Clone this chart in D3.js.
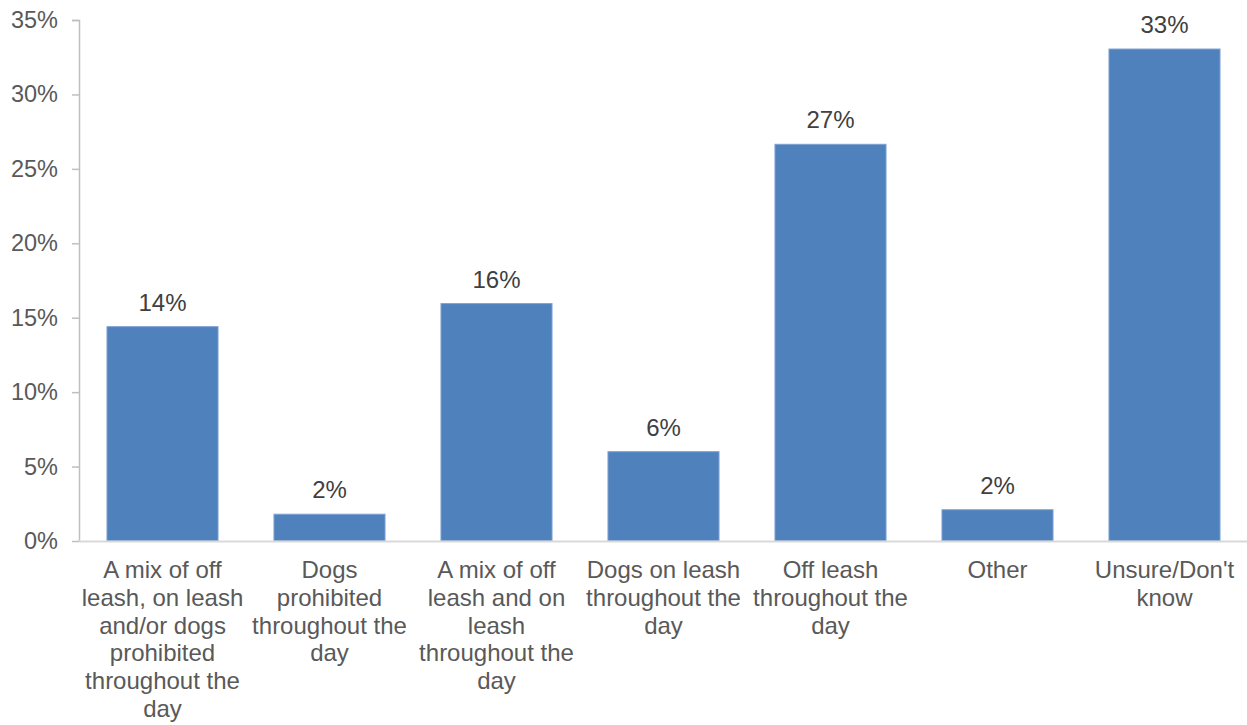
<!DOCTYPE html>
<html>
<head>
<meta charset="utf-8">
<script src="https://d3js.org/d3.v7.min.js"></script>
<style>
  body { margin: 0; background: #fff; }
  svg { display: block; font-family: Arial, "Liberation Sans", sans-serif; }
</style>
</head>
<body>
<svg class="viz" width="1247" height="725"></svg>
<script>
// chart data
var categories = [
  "A mix of off leash, on leash and/or dogs prohibited throughout the day",
  "Dogs prohibited throughout the day",
  "A mix of off leash and on leash throughout the day",
  "Dogs on leash throughout the day",
  "Off leash throughout the day",
  "Other",
  "Unsure/Don't know"
];
var values = [14.4, 1.8, 15.95, 6.0, 26.65, 2.1, 33.05];
var valueLabels = ["14%", "2%", "16%", "6%", "27%", "2%", "33%"];
// wrapped lines for x labels
var labelLines = [
  ["A mix of off", "leash, on leash", "and/or dogs", "prohibited", "throughout the", "day"],
  ["Dogs", "prohibited", "throughout the", "day"],
  ["A mix of off", "leash and on", "leash", "throughout the", "day"],
  ["Dogs on leash", "throughout the", "day"],
  ["Off leash", "throughout the", "day"],
  ["Other"],
  ["Unsure/Don't", "know"]
];
var yTicks = [0, 5, 10, 15, 20, 25, 30, 35];

var svg = d3.select(".viz"),
    margin = {top: 20, right: 0, bottom: 184, left: 79},
    width = 1247 - margin.left - margin.right,
    height = 725 - margin.top - margin.bottom;

var x = d3.scaleBand()
  .domain(categories)
  .range([0, 7 * 167])
  .paddingInner(0.335)
  .paddingOuter(0.1675);

var y = d3.scaleLinear()
  .domain([0, 35])
  .range([height, 0]);

var g = svg.append("g")
  .attr("transform", "translate(" + margin.left + "," + margin.top + ")");

// y axis
var yAxis = g.append("g")
  .call(d3.axisLeft(y).tickValues(yTicks).tickSize(7).tickPadding(14)
    .tickFormat(function(d) { return d + "%"; }));
yAxis.select(".domain").attr("stroke", "#bfbfbf").attr("stroke-width", 1.5)
  .attr("d", "M-7,0.5H0.5V" + height);
yAxis.selectAll(".tick line").attr("stroke", "#bfbfbf").attr("stroke-width", 1.5);
yAxis.selectAll(".tick text")
  .attr("fill", "#595959")
  .attr("font-size", "23.5px")
  .attr("font-family", "Arial, 'Liberation Sans', sans-serif");

// bars
g.selectAll(".bar")
  .data(values)
  .enter().append("rect")
  .attr("class", "bar")
  .attr("x", function(d, i) { return x(categories[i]); })
  .attr("y", function(d) { return y(d); })
  .attr("width", x.bandwidth())
  .attr("height", function(d) { return height - y(d); })
  .attr("fill", "#4f81bd")
  .attr("stroke", "#7ea2d3")
  .attr("stroke-width", 1);

// x axis baseline
g.append("line")
  .attr("x1", 0)
  .attr("x2", width)
  .attr("y1", height + 0.5)
  .attr("y2", height + 0.5)
  .attr("stroke", "#d9d9d9")
  .attr("stroke-width", 2);

// value labels
g.selectAll(".vlabel")
  .data(values)
  .enter().append("text")
  .attr("class", "vlabel")
  .attr("x", function(d, i) { return x(categories[i]) + x.bandwidth() / 2; })
  .attr("y", function(d) { return y(d) - 16; })
  .attr("text-anchor", "middle")
  .attr("font-size", "24px")
  .attr("fill", "#404040")
  .text(function(d, i) { return valueLabels[i]; });

// category labels
var cat = g.selectAll(".xlabel")
  .data(categories)
  .enter().append("text")
  .attr("class", "xlabel")
  .attr("text-anchor", "middle")
  .attr("font-size", "24px")
  .attr("fill", "#595959")
  .attr("transform", function(d) {
    return "translate(" + (x(d) + x.bandwidth() / 2) + "," + (height + 37) + ")";
  });

cat.selectAll("tspan")
  .data(function(d, i) { return labelLines[i]; })
  .enter().append("tspan")
  .attr("x", 0)
  .attr("y", function(d, i) { return i * 27.8; })
  .text(function(d) { return d; });
</script>
</body>
</html>
